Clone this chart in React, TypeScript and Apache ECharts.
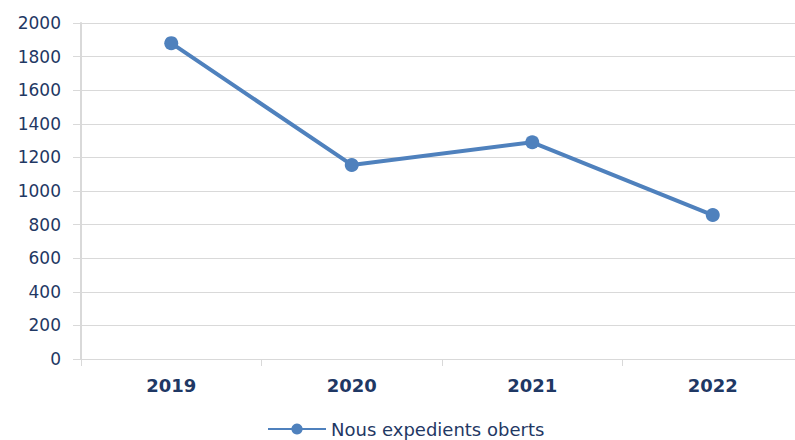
import React, { useEffect, useRef } from "react";
import * as echarts from "echarts";

const categories = ["2019", "2020", "2021", "2022"];
const values = [1880, 1155, 1290, 857];
const seriesName = "Nous expedients oberts";

export default function App() {
  const ref = useRef<HTMLDivElement>(null);
  useEffect(() => {
    const chart = echarts.init(ref.current!, null, { renderer: "svg" });
    const textColor = "#1f3864";
    chart.setOption({
      animation: false,
      backgroundColor: "#ffffff",
      grid: {
        left: 81,
        width: 722,
        top: 23,
        height: 336,
        containLabel: false,
        outerBoundsMode: "none",
      },
      legend: {
        bottom: -3,
        left: 262,
        itemWidth: 58,
        itemHeight: 14,
        itemGap: 4,
        textStyle: { fontFamily: "DejaVu Sans", fontSize: 18, color: textColor },
        data: [{ name: seriesName }],
      },
      xAxis: {
        type: "category",
        data: categories,
        boundaryGap: true,
        axisLine: { show: true, lineStyle: { color: "#d9d9d9", width: 1 } },
        axisTick: { show: true, length: 7, lineStyle: { color: "#d9d9d9" } },
        axisLabel: {
          fontFamily: "DejaVu Sans",
          fontSize: 18,
          fontWeight: "bold",
          color: textColor,
          margin: 17,
        },
      },
      yAxis: {
        type: "value",
        min: 0,
        max: 2000,
        interval: 200,
        axisLine: { show: true, lineStyle: { color: "#d9d9d9", width: 2 } },
        axisTick: { show: true, length: 8, lineStyle: { color: "#d9d9d9" } },
        splitLine: { show: true, lineStyle: { color: "#d9d9d9", width: 1 } },
        axisLabel: {
          fontFamily: "DejaVu Sans",
          fontSize: 17,
          color: textColor,
          margin: 20,
          formatter: (v: number) => String(v),
        },
      },
      series: [
        {
          name: seriesName,
          type: "line",
          data: values,
          symbol: "circle",
          symbolSize: 14,
          lineStyle: { color: "#4f81bd", width: 4 },
          itemStyle: { color: "#4f81bd" },
        },
      ],
    });
    return () => chart.dispose();
  }, []);
  return (
    <div
      ref={ref}
      style={{ position: "fixed", left: 0, top: 0, width: 795, height: 440 }}
    />
  );
}
